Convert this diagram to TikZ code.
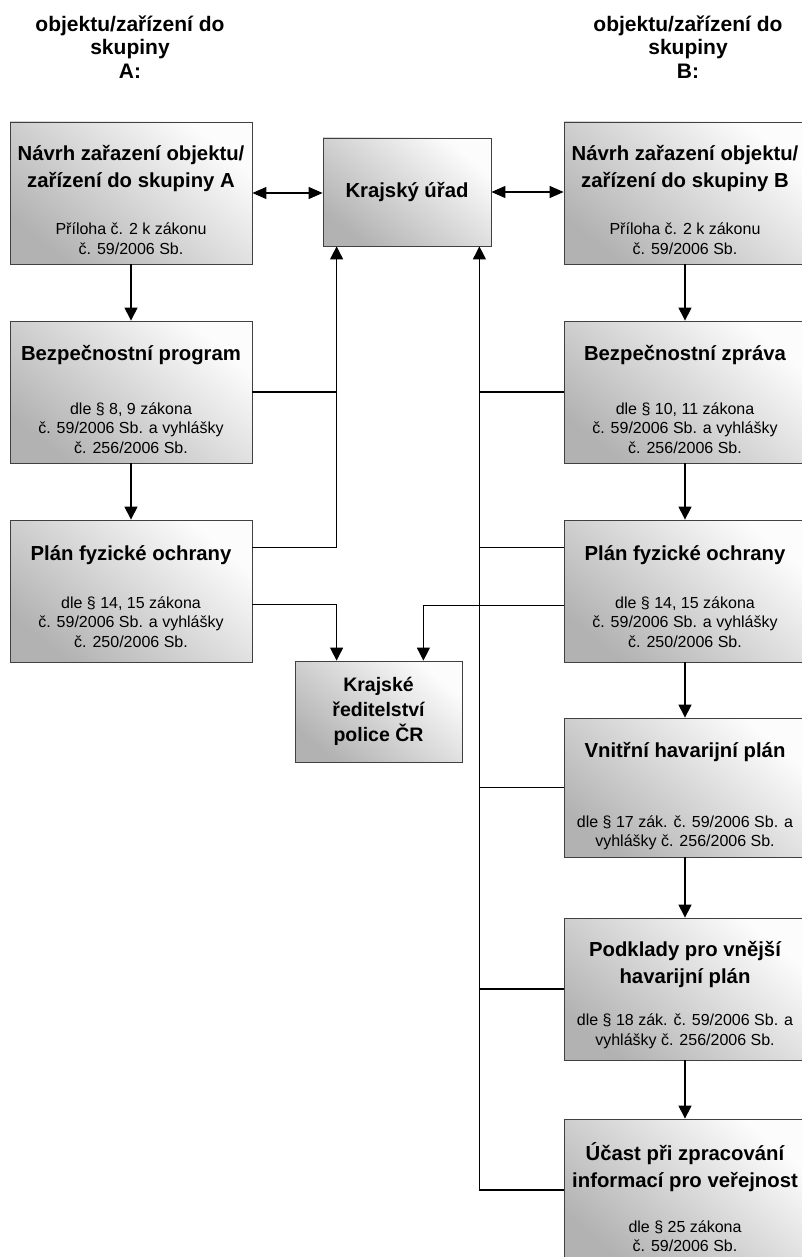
\documentclass[tikz,border=0pt]{standalone}
\usepackage{fontspec}
\setmainfont{Liberation Sans}
\usetikzlibrary{arrows.meta}
\tikzset{
  blok/.style={draw=black!75, line width=0.8pt, top color=black!1, bottom color=black!30, shading angle=-40,
    minimum width=242pt, minimum height=142pt, inner sep=0pt, align=center,
    font=\fontsize{20.3}{26}\selectfont\bfseries},
  titul/.style={align=center, inner sep=0pt, font=\fontsize{20.3}{27}\selectfont\bfseries},
  pozn/.style={align=center, inner sep=0pt, font=\fontsize{16}{19.5}\selectfont},
  hlava/.style={align=center, inner sep=0pt, font=\fontsize{21}{23.5}\selectfont\bfseries},
  sip/.style={-{Triangle[length=13pt,width=13pt]}},
  dvojsip/.style={{Triangle[length=14pt,width=12pt]}-{Triangle[length=14pt,width=12pt]}}
}
\begin{document}
\begin{tikzpicture}[x=1pt,y=-1pt,line width=1.1pt]
\path[use as bounding box, clip] (0,0) rectangle (802,1257);

\node[hlava] (hA) at (130,47) {objektu/zařízení do\\skupiny\\A:};
\node[hlava] (hB) at (688,47) {objektu/zařízení do\\skupiny\\B:};

% bloky obou skupin
\foreach \s/\x in {a/131,b/685}{
\node[blok] (\s1) at (\x,193) {};
\node[blok] (\s2) at (\x,392) {};
\node[blok] (\s3) at (\x,591) {};
\node[pozn] (\s1p) at (\x,238.5) {Příloha č. 2 k zákonu\\č. 59/2006 Sb.};
\node[titul] (\s3t) at (\x,555) {Plán fyzické ochrany};
\node[pozn] (\s3p) at (\x,622) {dle § 14, 15 zákona\\č. 59/2006 Sb. a vyhlášky\\č. 250/2006 Sb.};
}
\node[blok, minimum height=139pt] (b4) at (685,787.5) {};
\node[blok] (b5) at (685,989) {};
\node[blok] (b6) at (685,1190) {};
\node[blok, minimum width=168pt, minimum height=108pt] (kr) at (407,192) {Krajský úřad};
\node[blok, minimum width=167pt, minimum height=101pt, font=\fontsize{19.5}{25}\selectfont\bfseries] (pol) at (378.5,711.5) {Krajské\\ředitelství\\police ČR};

\node[titul] (a1t) at (131,168.5) {Návrh zařazení objektu/\\zařízení do skupiny A};
\node[titul] (b1t) at (685,168.5) {Návrh zařazení objektu/\\zařízení do skupiny B};
\node[titul] (a2t) at (131,355) {Bezpečnostní program};
\node[pozn] (a2p) at (131,428) {dle § 8, 9 zákona\\č. 59/2006 Sb. a vyhlášky\\č. 256/2006 Sb.};
\node[titul] (b2t) at (685,355) {Bezpečnostní zpráva};
\node[pozn] (b2p) at (685,428) {dle § 10, 11 zákona\\č. 59/2006 Sb. a vyhlášky\\č. 256/2006 Sb.};
\node[titul] (b4t) at (685,752) {Vnitřní havarijní plán};
\node[pozn] (b4p) at (685,833) {dle § 17 zák. č. 59/2006 Sb. a\\vyhlášky č. 256/2006 Sb.};
\node[titul] (b5t) at (685,964.5) {Podklady pro vnější\\havarijní plán};
\node[pozn] (b5p) at (685,1031.5) {dle § 18 zák. č. 59/2006 Sb. a\\vyhlášky č. 256/2006 Sb.};
\node[titul] (b6t) at (685,1167.5) {Účast při zpracování\\informací pro veřejnost};
\node[pozn] (b6p) at (685,1236) {dle § 25 zákona\\č. 59/2006 Sb.};

% spojnice
\foreach \u/\v in {a1/a2,a2/a3,b1/b2,b2/b3,b3/b4,b4/b5,b5/b6}{
\draw[sip] (\u) -- (\v);
}
\draw[dvojsip] (a1.east) -- (a1.east -| kr.west);
\draw[dvojsip] (kr.east) -- (kr.east -| b1.west);

\coordinate (kA) at ([xshift=14pt]kr.south west);
\coordinate (kB) at ([xshift=-12pt]kr.south east);
\coordinate (pA) at ([xshift=42pt]pol.north west);
\coordinate (pB) at ([xshift=-39pt]pol.north east);
\coordinate (a3h) at ([yshift=-28pt]a3.north east);
\coordinate (a3d) at ([yshift=-85pt]a3.north east);
\coordinate (b3h) at ([yshift=-28pt]b3.north west);
\coordinate (b3d) at ([yshift=-86pt]b3.north west);

\draw[sip] (a2.east) -| (kA);
\draw (a3h) -| (a2.east -| kA);
\draw[sip] (a3d) -| (pA);
\draw[sip] (b3d) -| (pB);
\draw[sip] (b6.west) -| (kB);
\foreach \n in {b2,b4,b5}{
\draw (\n.west) -- (\n.west -| kB);
}
\draw (b3h) -- (b3h -| kB);
\end{tikzpicture}
\end{document}
